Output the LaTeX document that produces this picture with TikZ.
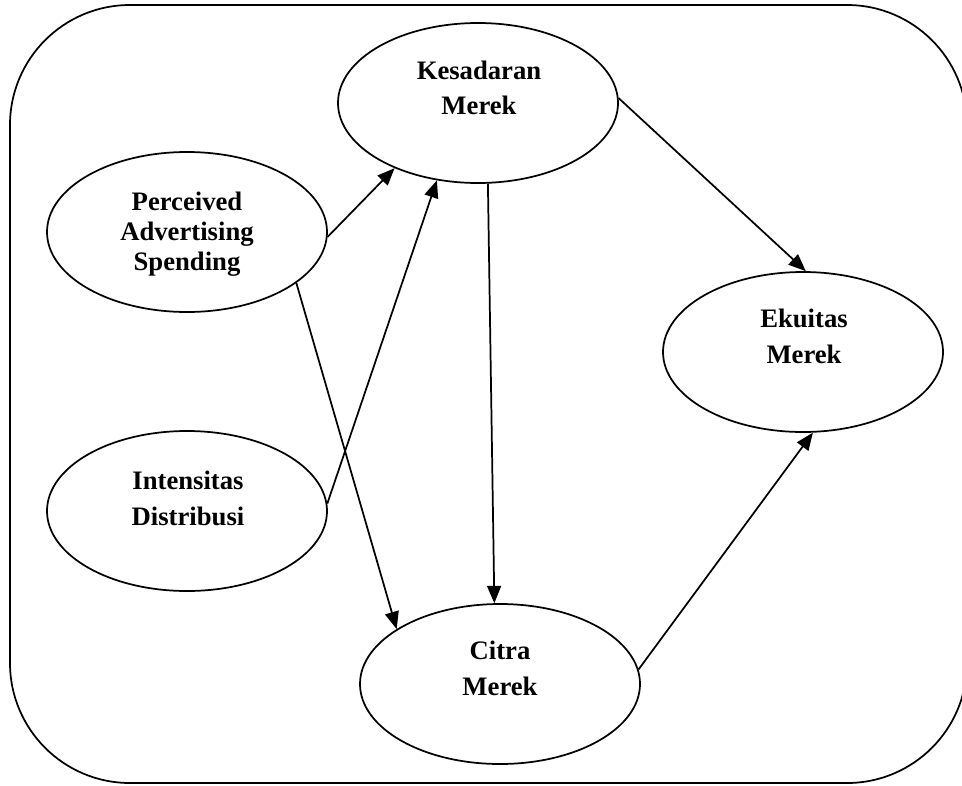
\documentclass[tikz,border=0pt]{standalone}
\usepackage{fontspec}
\setmainfont{Liberation Serif}
\usetikzlibrary{shapes.geometric,arrows.meta}
\tikzset{
  construct/.style={ellipse, draw, line width=1.3pt, minimum width=210pt, minimum height=120pt, inner sep=0pt},
  lbl/.style={align=center, inner sep=0pt, font=\bfseries\fontsize{20}{26.5}\selectfont},
  link/.style={line width=1.3pt, -{Triangle[length=13pt,width=10.5pt]}},
}
\begin{document}
\begin{tikzpicture}[x=0.75pt, y=-0.75pt]
\useasboundingbox (0,0) rectangle (962,785);
\begin{scope}
\clip (0,0) rectangle (962,785);
\draw[line width=1.3pt, rounded corners=90pt] (10,5) rectangle (967,783);
\end{scope}

\node[construct] (kes) at (478,103) {};
\node[construct] (pas) at (187,232) {};
\node[construct] (eku) at (803,352) {};
\node[construct] (int) at (187,511) {};
\node[construct] (cit) at (500,684) {};

\node[lbl] (kest) at (479,88) {Kesadaran\\Merek};
\node[lbl, font=\bfseries\fontsize{20}{22.5}\selectfont] (past) at (187,234) {Perceived\\Advertising\\Spending};
\node[lbl] (ekut) at (804,336.5) {Ekuitas\\Merek};
\node[lbl] (intt) at (188,498.5) {Intensitas\\Distribusi};
\node[lbl] (citt) at (500,668.5) {Citra\\Merek};

\draw[link] (pas.-2.5) -- (kes.218.5);
\draw[link] (int.3.3) -- (kes.242.3);
\draw[link] (pas.-25.3) -- (cit.152.6);
\draw[link] (kes.-83.6) -- (cit.94.9);
\draw[link] (kes.2.5) -- (eku.88.6);
\draw[link] (cit.6.6) -- (eku.-83.7);
\end{tikzpicture}
\end{document}
